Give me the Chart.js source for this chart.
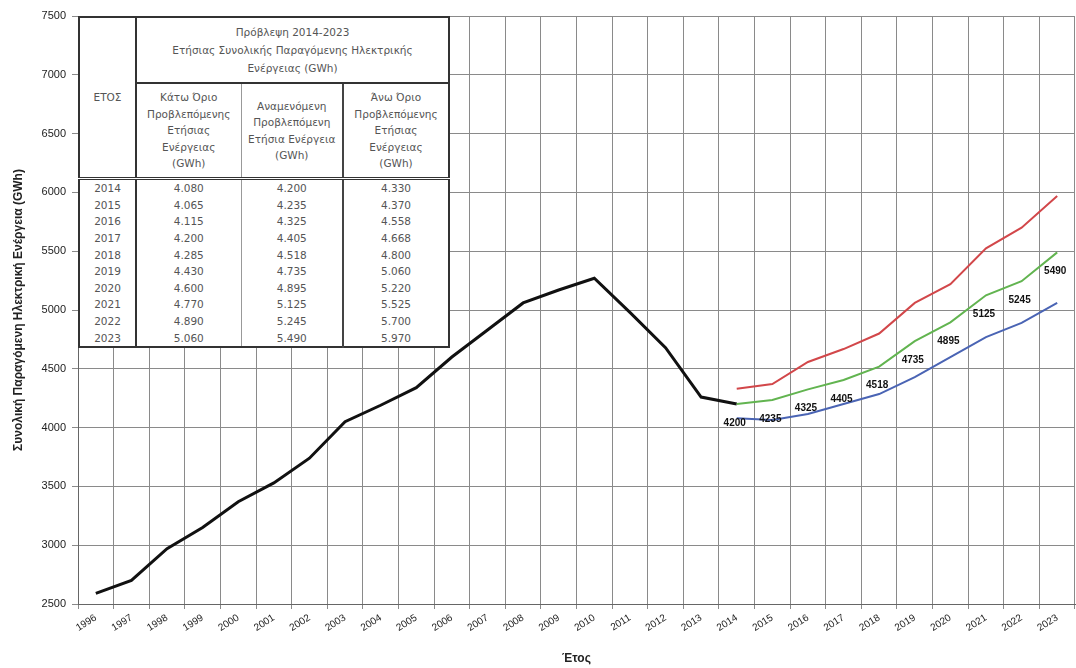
<!DOCTYPE html>
<html lang="el">
<head>
    <meta charset="UTF-8">
    <title>Πρόβλεψη Παραγόμενης Ηλεκτρικής Ενέργειας</title>
    <script src="https://cdn.jsdelivr.net/npm/chart.js"></script>
    <style>
        body { margin: 0; background: #fff; font-family: "Liberation Sans", Arial, sans-serif; }
        #wrap { position: relative; width: 1076px; height: 668px; }
        #forecastTable {
            position: absolute; left: 78px; top: 16px; width: 370px; height: 332px;
            border-collapse: collapse; table-layout: fixed; background: #fff;
            font-family: "DejaVu Sans", sans-serif; font-size: 10.5px; color: #555; border: 2px solid #333;
        }
        #forecastTable td { padding: 0 1px; text-align: center; white-space: nowrap; overflow: hidden; }
        #forecastTable .hdr1 td { height: 64px; line-height: 18px; border-bottom: 2px solid #333; }
        #forecastTable .hdr2 td { height: 92px; line-height: 16.5px; border-bottom: 3px double #333; }
        #forecastTable .year { border-right: 2px solid #333; }
        #forecastTable .c2 { border-right: 1px solid #999; }
        #forecastTable .c3 { border-right: 2px solid #444; }
        #forecastTable tbody td { height: 16.5px; line-height: 16px; font-size: 10.5px; }
    </style>
</head>
<body>
<div id="wrap">
    <canvas id="energyChart" width="1076" height="668"></canvas>
    <table id="forecastTable"></table>
</div>

<script>
    const years = ['1996', '1997', '1998', '1999', '2000', '2001', '2002', '2003', '2004', '2005',
        '2006', '2007', '2008', '2009', '2010', '2011', '2012', '2013', '2014', '2015',
        '2016', '2017', '2018', '2019', '2020', '2021', '2022', '2023'];

    // ιστορικά στοιχεία 1996-2014 (GWh)
    const historical = [2590, 2700, 2970, 3150, 3370, 3530, 3740, 4050, 4190, 4340,
        4600, 4830, 5060, 5170, 5270, 4980, 4680, 4260, 4200];

    // πρόβλεψη 2014-2023
    const forecastYears = ['2014', '2015', '2016', '2017', '2018', '2019', '2020', '2021', '2022', '2023'];
    const lowForecast = [4080, 4065, 4115, 4200, 4285, 4430, 4600, 4770, 4890, 5060];
    const refForecast = [4200, 4235, 4325, 4405, 4518, 4735, 4895, 5125, 5245, 5490];
    const highForecast = [4330, 4370, 4558, 4668, 4800, 5060, 5220, 5525, 5700, 5970];

    const offset = years.indexOf(forecastYears[0]);
    const pad = (arr, before) => Array(before).fill(null).concat(arr).concat(Array(years.length - before - arr.length).fill(null));

    function fmt(v) {
        return String(v).replace(/\B(?=(\d{3})+(?!\d))/g, '.');
    }

    function buildTable() {
        const table = document.getElementById('forecastTable');
        table.innerHTML = `
            <colgroup><col style="width:57px"><col style="width:105px"><col style="width:102px"><col style="width:106px"></colgroup>
            <tr class="hdr1">
                <td rowspan="2" class="year" style="border-bottom:3px double #333">ΕΤΟΣ</td>
                <td colspan="3">Πρόβλεψη 2014-2023<br>Ετήσιας Συνολικής Παραγόμενης Ηλεκτρικής<br>Ενέργειας (GWh)</td>
            </tr>
            <tr class="hdr2">
                <td class="c2">Κάτω Όριο<br>Προβλεπόμενης<br>Ετήσιας<br>Ενέργειας<br>(GWh)</td>
                <td class="c3">Αναμενόμενη<br>Προβλεπόμενη<br>Ετήσια Ενέργεια<br>(GWh)</td>
                <td>Άνω Όριο<br>Προβλεπόμενης<br>Ετήσιας<br>Ενέργειας<br>(GWh)</td>
            </tr>`;
        const body = document.createElement('tbody');
        forecastYears.forEach((y, i) => {
            const row = body.insertRow();
            row.innerHTML = `<td class="year">${y}</td><td class="c2">${fmt(lowForecast[i])}</td>` +
                `<td class="c3">${fmt(refForecast[i])}</td><td>${fmt(highForecast[i])}</td>`;
        });
        table.appendChild(body);
    }

    // ετικέτες τιμών κάτω από την αναμενόμενη καμπύλη
    const refLabels = {
        id: 'refLabels',
        afterDatasetsDraw(chart) {
            const ctx = chart.ctx;
            const ds = chart.data.datasets[2];
            const meta = chart.getDatasetMeta(2);
            ctx.save();
            ctx.font = 'bold 10px "Liberation Sans", Arial, sans-serif';
            ctx.fillStyle = '#111';
            ctx.textAlign = 'center';
            ctx.textBaseline = 'middle';
            meta.data.forEach((pt, i) => {
                if (ds.data[i] == null) return;
                ctx.fillText(String(ds.data[i]), pt.x - 2, pt.y + 19);
            });
            ctx.restore();
        }
    };

    function drawChart() {
        const ctx = document.getElementById('energyChart').getContext('2d');
        new Chart(ctx, {
            type: 'line',
            data: {
                labels: years,
                datasets: [
                    { data: pad(highForecast, offset), borderColor: '#d2474a', borderWidth: 2 },
                    { data: pad(lowForecast, offset), borderColor: '#4a64b4', borderWidth: 2 },
                    { data: pad(refForecast, offset), borderColor: '#62b450', borderWidth: 2 },
                    { data: historical, borderColor: '#111', borderWidth: 3 }
                ]
            },
            options: {
                responsive: false,
                animation: false,
                layout: { padding: { top: 16, right: 1, left: 0, bottom: 0 } },
                elements: { point: { radius: 0 }, line: { tension: 0 } },
                plugins: { legend: { display: false }, tooltip: { enabled: false } },
                scales: {
                    x: {
                        offset: true,
                        grid: { offset: true, color: '#8a8a8a', tickLength: 5 },
                        border: { color: '#666' },
                        ticks: {
                            autoSkip: false, minRotation: 32, maxRotation: 32,
                            color: '#222', font: { size: 10, family: '"Liberation Sans", Arial' }
                        },
                        title: {
                            display: true, text: 'Έτος', color: '#222',
                            font: { size: 12, weight: 'bold', family: '"Liberation Sans", Arial' },
                            padding: { top: 2, bottom: 2 }
                        },
                        afterFit: s => { s.height = 64; }
                    },
                    y: {
                        min: 2500, max: 7500,
                        grid: { color: '#8a8a8a', tickLength: 6 },
                        border: { color: '#666' },
                        ticks: {
                            stepSize: 500, padding: 6, color: '#222',
                            font: { size: 11, family: '"Liberation Sans", Arial' },
                            callback: v => String(v)
                        },
                        title: {
                            display: true, text: 'Συνολική Παραγόμενη Ηλεκτρική Ενέργεια (GWh)', color: '#222',
                            font: { size: 12, weight: 'bold', family: '"Liberation Sans", Arial' },
                            padding: { top: 11, bottom: 0 }
                        },
                        afterFit: s => { s.width = 78; }
                    }
                }
            },
            plugins: [refLabels]
        });
    }

    buildTable();
    drawChart();
</script>
</body>
</html>
